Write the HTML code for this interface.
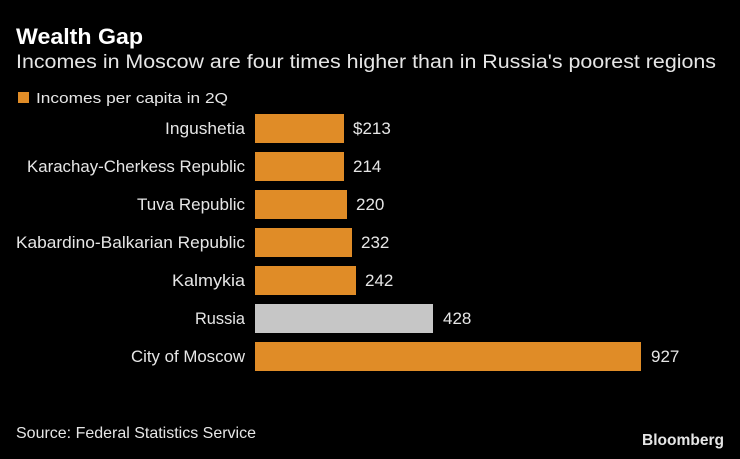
<!DOCTYPE html>
<html><head><style>
body{margin:0;background:#000;}
svg text{font-family:"Liberation Sans",sans-serif;fill:#e6e6e6;}
</style></head><body>
<svg width="740" height="454" xmlns="http://www.w3.org/2000/svg">
<rect width="740" height="454" fill="#000"/>
<text x="16" y="44" font-size="22" font-weight="bold" style="fill:#fff" textLength="127" lengthAdjust="spacingAndGlyphs">Wealth Gap</text>
<text x="16" y="68" font-size="19" textLength="700" lengthAdjust="spacingAndGlyphs">Incomes in Moscow are four times higher than in Russia's poorest regions</text>
<rect x="18" y="92" width="11" height="11" fill="#e08c27"/>
<text x="36" y="103" font-size="15" textLength="192" lengthAdjust="spacingAndGlyphs">Incomes per capita in 2Q</text>
<g font-size="17">
<rect x="255" y="114" width="89" height="29" fill="#e08c27"/>
<text x="245" y="134" text-anchor="end" textLength="80" lengthAdjust="spacingAndGlyphs">Ingushetia</text>
<text x="353" y="134">$213</text>
<rect x="255" y="152" width="89" height="29" fill="#e08c27"/>
<text x="245" y="172" text-anchor="end" textLength="218" lengthAdjust="spacingAndGlyphs">Karachay-Cherkess Republic</text>
<text x="353" y="172">214</text>
<rect x="255" y="190" width="92" height="29" fill="#e08c27"/>
<text x="245" y="210" text-anchor="end" textLength="108" lengthAdjust="spacingAndGlyphs">Tuva Republic</text>
<text x="356" y="210">220</text>
<rect x="255" y="228" width="97" height="29" fill="#e08c27"/>
<text x="245" y="248" text-anchor="end" textLength="229" lengthAdjust="spacingAndGlyphs">Kabardino-Balkarian Republic</text>
<text x="361" y="248">232</text>
<rect x="255" y="266" width="101" height="29" fill="#e08c27"/>
<text x="245" y="286" text-anchor="end" textLength="73" lengthAdjust="spacingAndGlyphs">Kalmykia</text>
<text x="365" y="286">242</text>
<rect x="255" y="304" width="178" height="29" fill="#c6c6c6"/>
<text x="245" y="324" text-anchor="end" textLength="50" lengthAdjust="spacingAndGlyphs">Russia</text>
<text x="443" y="324">428</text>
<rect x="255" y="342" width="386" height="29" fill="#e08c27"/>
<text x="245" y="362" text-anchor="end" textLength="114" lengthAdjust="spacingAndGlyphs">City of Moscow</text>
<text x="651" y="362">927</text>
</g>
<text x="16" y="438" font-size="16" textLength="240" lengthAdjust="spacingAndGlyphs">Source: Federal Statistics Service</text>
<text x="724" y="445" font-size="16" font-weight="bold" text-anchor="end" textLength="82" lengthAdjust="spacingAndGlyphs">Bloomberg</text>
</svg>
</body></html>
